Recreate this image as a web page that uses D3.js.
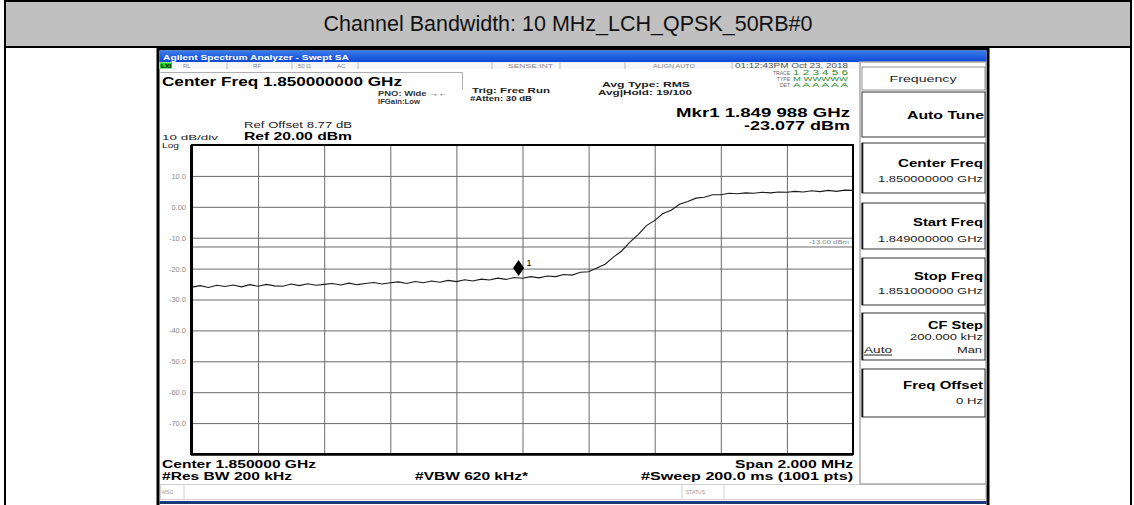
<!DOCTYPE html>
<html>
<head>
<meta charset="utf-8">
<script src="https://cdn.jsdelivr.net/npm/d3@7"></script>
<style>
  body { margin: 0; background: #fff; }
  svg text { font-family: "Liberation Sans", Arial, sans-serif; }
</style>
</head>
<body>
<div id="chart"></div>
<script>
var WIDTH = 1134, HEIGHT = 505;

// sweep settings
var startFreq = 1.849, stopFreq = 1.851;   // GHz
var refLevel = 20, bottomLevel = -80;      // dBm
var displayLine = -13;

// trace levels (dBm), evenly spaced over the span
var traceLevels = [
  -26.0, -25.5, -26.1, -25.4, -25.8, -25.3, -25.9, -25.2, -25.7, -25.1,
  -25.6, -25.7, -25.0, -25.5, -24.9, -25.4, -25.1, -24.8, -25.3, -24.7,
  -25.2, -24.8, -24.5, -25.0, -24.6, -24.3, -24.8, -24.2, -24.6, -24.0,
  -24.4, -23.8, -24.2, -23.6, -24.0, -23.4, -23.7, -23.1, -23.5, -22.9,
  -23.1, -22.6, -23.0, -22.4, -22.6, -21.9, -22.1, -21.2, -21.0, -19.8,
  -18.6, -16.3, -14.3, -11.4, -9.0, -6.1, -4.4, -2.2, -1.1, 0.8,
  1.7, 2.8, 3.1, 3.9, 3.9, 4.4, 4.2, 4.5, 4.4, 4.7,
  4.5, 4.8, 4.7, 5.0, 4.8, 5.2, 4.9, 5.3, 5.0, 5.4,
  5.3
];

// marker 1
var markerFreq = 1.849988, markerLevel = -23.077;

// y tick labels on the graticule
var yTickValues = [10, 0, -10, -20, -30, -40, -50, -60, -70];
var yTickLabels = ["10.0", "0.00", "-10.0", "-20.0", "-30.0", "-40.0", "-50.0", "-60.0", "-70.0"];

// softkeys on the right
var softkeyTitles = ["Center Freq", "Start Freq", "Stop Freq", "CF Step", "Freq Offset"];
var softkeyValues = ["1.850000000 GHz", "1.849000000 GHz", "1.851000000 GHz", "200.000 kHz", "0 Hz"];

var svg = d3.select('#chart')
    .append('svg')
    .attr('width', WIDTH)
    .attr('height', HEIGHT);

//helper for text, optional fixed width
function txt(g, x, y, s, o) {
    o = o || {};
    var t = g.append('text')
        .attr('x', x)
        .attr('y', y)
        .attr('font-size', o.size || 10)
        .attr('font-weight', o.bold ? 'bold' : 'normal')
        .attr('fill', o.fill || '#000')
        .attr('text-anchor', o.anchor || 'start')
        .text(s);
    if (o.w) {
        t.attr('textLength', o.w).attr('lengthAdjust', 'spacingAndGlyphs');
    }
    return t;
}

//outer table: grey header cell
svg.append('rect').attr('x', 5).attr('y', 1).attr('width', 1126).attr('height', 46)
    .attr('fill', '#c0c0c0').attr('stroke', '#000').attr('stroke-width', 2);
svg.append('line').attr('x1', 5).attr('x2', 5).attr('y1', 47).attr('y2', HEIGHT)
    .attr('stroke', '#000').attr('stroke-width', 2);
svg.append('line').attr('x1', 1131).attr('x2', 1131).attr('y1', 47).attr('y2', HEIGHT)
    .attr('stroke', '#000').attr('stroke-width', 2);
txt(svg, 568, 31, "Channel Bandwidth: 10 MHz_LCH_QPSK_50RB#0", {size: 21.5, anchor: 'middle', fill: '#111'});

//screenshot frame
var scr = svg.append('g');
scr.append('rect').attr('x', 158).attr('y', 49).attr('width', 830).attr('height', 460)
    .attr('fill', '#fff').attr('stroke', '#000').attr('stroke-width', 3);

var defs = svg.append('defs');
var grad = defs.append('linearGradient').attr('id', 'bluebar').attr('x1', 0).attr('x2', 0).attr('y1', 0).attr('y2', 1);
grad.append('stop').attr('offset', '0%').attr('stop-color', '#3a7cf0');
grad.append('stop').attr('offset', '100%').attr('stop-color', '#0d48d2');

scr.append('rect').attr('x', 159.5).attr('y', 50.5).attr('width', 827).attr('height', 11.5).attr('fill', 'url(#bluebar)');
txt(scr, 163, 59.5, "Agilent Spectrum Analyzer - Swept SA", {size: 7, bold: true, fill: '#fff', w: 186});

//status row
scr.append('rect').attr('x', 159.5).attr('y', 62).attr('width', 700).attr('height', 7).attr('fill', '#f7f7f7');
scr.append('rect').attr('x', 160).attr('y', 62.5).attr('width', 12).attr('height', 6).attr('fill', '#1fd21f');
txt(scr, 161, 68, "LXI", {size: 5.5, bold: true, fill: '#000', w: 10});
[227, 292, 358, 492, 560, 625, 732].forEach(function(sx) {
    scr.append('line').attr('x1', sx).attr('x2', sx).attr('y1', 62).attr('y2', 69).attr('stroke', '#bbb');
});
txt(scr, 183, 68, "RL", {size: 6, fill: '#888'});
txt(scr, 253, 68, "RF", {size: 6, fill: '#888'});
txt(scr, 298, 68, "50 Ω", {size: 6, fill: '#888'});
txt(scr, 337, 68, "AC", {size: 6, fill: '#888'});
txt(scr, 508, 68, "SENSE:INT", {size: 6, fill: '#888', w: 45});
txt(scr, 653, 68, "ALIGN AUTO", {size: 6, fill: '#888', w: 42});
txt(scr, 735, 68, "01:12:43PM Oct 23, 2018", {size: 6.5, fill: '#555', w: 113});

//center freq box
scr.append('path').attr('d', 'M160.5,72.5H462.5V89.5')
    .attr('fill', 'none').attr('stroke', '#999').attr('stroke-width', 0.8);
txt(scr, 162, 86, "Center Freq 1.850000000 GHz", {size: 13, bold: true, w: 240});
txt(scr, 378, 96, "PNO: Wide \u2192\u2190", {size: 6.5, bold: true, fill: '#333', w: 70});
txt(scr, 378, 104, "IFGain:Low", {size: 6.5, bold: true, fill: '#333', w: 42});
txt(scr, 472, 93, "Trig: Free Run", {size: 8, bold: true, fill: '#222', w: 78});
txt(scr, 470, 101, "#Atten: 30 dB", {size: 7, bold: true, fill: '#222', w: 62});
txt(scr, 602, 87, "Avg Type: RMS", {size: 8, bold: true, fill: '#222', w: 88});
txt(scr, 598, 95, "Avg|Hold: 19/100", {size: 8, bold: true, fill: '#222', w: 94});
txt(scr, 790, 75, "TRACE", {size: 5, fill: '#666', anchor: 'end'});
txt(scr, 790, 81, "TYPE", {size: 5, fill: '#666', anchor: 'end'});
txt(scr, 790, 87, "DET", {size: 5, fill: '#666', anchor: 'end'});
txt(scr, 793, 75, "1 2 3 4 5 6", {size: 6.5, fill: '#2a8a2a', w: 55});
txt(scr, 793, 81, "M WWWWW", {size: 5.5, fill: '#2a8a2a', w: 55});
txt(scr, 793, 87, "A A A A A A", {size: 6, fill: '#2a8a2a', w: 55});

txt(scr, 850, 117, "Mkr1 1.849 988 GHz", {size: 12.5, bold: true, anchor: 'end', w: 174});
txt(scr, 850, 130, "-23.077 dBm", {size: 12.5, bold: true, anchor: 'end', w: 106});
txt(scr, 244, 128, "Ref Offset 8.77 dB", {size: 8.5, fill: '#222', w: 108});
txt(scr, 244, 140, "Ref 20.00 dBm", {size: 11, bold: true, w: 108});
txt(scr, 162, 140, "10 dB/div", {size: 8, fill: '#222', w: 56});
txt(scr, 162, 148, "Log", {size: 7.5, fill: '#222', w: 17});

//graticule scales
var plotL = 192, plotR = 853, plotT = 145, plotB = 454;
var x = d3.scaleLinear().domain([startFreq, stopFreq]).range([plotL, plotR]);
var y = d3.scaleLinear().domain([bottomLevel, refLevel]).range([plotB, plotT]);
var idx = d3.scaleLinear().domain([0, traceLevels.length - 1]).range([startFreq, stopFreq]);

var plot = scr.append('g');

//horizontal graticule via axis
var yAxis = d3.axisLeft(y)
    .tickValues(d3.range(bottomLevel, refLevel + 1, 10))
    .tickSize(-(plotR - plotL))
    .tickFormat(function(d) {
        var i = yTickValues.indexOf(d);
        return i >= 0 ? yTickLabels[i] : '';
    });
var ya = plot.append('g').attr('transform', 'translate(' + plotL + ',0)').call(yAxis);
ya.select('.domain').remove();
ya.selectAll('line').attr('stroke', '#6a6a6a').attr('stroke-width', 1);
ya.selectAll('text').attr('x', -6).attr('fill', '#8a8a8a').attr('font-size', 7.5)
    .style('font-family', '"Liberation Sans", Arial, sans-serif');

//vertical graticule
var xAxis = d3.axisBottom(x)
    .tickValues(x.ticks(10))
    .tickSize(-(plotB - plotT))
    .tickFormat('');
var xa = plot.append('g').attr('transform', 'translate(0,' + plotB + ')').call(xAxis);
xa.select('.domain').remove();
xa.selectAll('line').attr('stroke', '#6a6a6a').attr('stroke-width', 1);

//display line
plot.append('line').attr('x1', plotL).attr('x2', plotR)
    .attr('y1', y(displayLine)).attr('y2', y(displayLine))
    .attr('stroke', '#6a6a6a').attr('stroke-width', 1);
txt(plot, 849, y(displayLine) - 2.5, "-13.00 dBm", {size: 5, fill: '#888', anchor: 'end', w: 40});

//plot border
plot.append('rect').attr('x', plotL).attr('y', plotT).attr('width', plotR - plotL).attr('height', plotB - plotT)
    .attr('fill', 'none').attr('stroke', '#000').attr('stroke-width', 2);
plot.append('line').attr('x1', plotL - 1).attr('x2', plotL - 1).attr('y1', plotT).attr('y2', plotB + 1)
    .attr('stroke', '#000').attr('stroke-width', 2);
plot.append('line').attr('x1', plotL - 1).attr('x2', plotR).attr('y1', plotB + 1).attr('y2', plotB + 1)
    .attr('stroke', '#000').attr('stroke-width', 1.5);

//trace
var line = d3.line()
    .x(function(d, i) { return x(idx(i)); })
    .y(function(d) { return y(d); });
plot.append('path').datum(traceLevels)
    .attr('d', line)
    .attr('fill', 'none')
    .attr('stroke', '#1a1a1a')
    .attr('stroke-width', 1.1);

//marker diamond
var mx = x(markerFreq), my = y(markerLevel);
plot.append('path')
    .attr('d', 'M' + mx + ',' + (my - 18) + 'L' + (mx + 5.5) + ',' + (my - 10) + 'L' + mx + ',' + (my - 2) + 'L' + (mx - 5.5) + ',' + (my - 10) + 'Z')
    .attr('fill', '#000');
txt(plot, mx + 8, my - 12, "1", {size: 9, fill: '#000'});

//bottom annotations
txt(scr, 162, 468, "Center 1.850000 GHz", {size: 11, bold: true, w: 154});
txt(scr, 162, 480, "#Res BW 200 kHz", {size: 11, bold: true, w: 130});
txt(scr, 415, 480, "#VBW 620 kHz*", {size: 11, bold: true, w: 113});
txt(scr, 853, 468, "Span 2.000 MHz", {size: 11, bold: true, anchor: 'end', w: 118});
txt(scr, 853, 480, "#Sweep  200.0 ms (1001 pts)", {size: 11, bold: true, anchor: 'end', w: 212});

//msg bar
scr.append('rect').attr('x', 160.5).attr('y', 484.5).attr('width', 825).attr('height', 15)
    .attr('fill', '#fff').attr('stroke', '#d0d0d0');
[184, 682, 724].forEach(function(sx) {
    scr.append('line').attr('x1', sx).attr('x2', sx).attr('y1', 485).attr('y2', 499).attr('stroke', '#d0d0d0');
});
txt(scr, 162, 494, "MSG", {size: 5, fill: '#999'});
txt(scr, 686, 494, "STATUS", {size: 5, fill: '#999'});
scr.append('rect').attr('x', 159.5).attr('y', 501).attr('width', 827).attr('height', 3).attr('fill', '#1b3a78');

//softkey panel
var panel = scr.append('g');
panel.append('rect').attr('x', 860).attr('y', 62).attr('width', 126).attr('height', 422)
    .attr('fill', '#fff').attr('stroke', '#aaa').attr('stroke-width', 1.5);
panel.append('rect').attr('x', 862).attr('y', 67).attr('width', 123).attr('height', 23)
    .attr('fill', '#fff').attr('stroke', '#777').attr('stroke-width', 0.8);
txt(panel, 923, 82, "Frequency", {size: 9, fill: '#222', anchor: 'middle', w: 67});
panel.append('rect').attr('x', 862).attr('y', 92).attr('width', 123).attr('height', 45)
    .attr('fill', '#fff').attr('stroke', '#333').attr('stroke-width', 1);
txt(panel, 984, 119, "Auto Tune", {size: 10.5, bold: true, anchor: 'end', w: 77});

//softkey boxes
var keyTops = [143, 203, 258, 313, 369];
var keyHeights = [50, 46, 47, 47, 48];
var titleDy = [24, 23, 22, 16, 20];
var valueDy = [39, 39, 36, 27, 35];
var titleW = [85, 70, 69, 55, 80];
var valueW = [105, 105, 105, 73, 27];
softkeyTitles.forEach(function(k, i) {
    var top = keyTops[i];
    panel.append('rect').attr('x', 862).attr('y', top).attr('width', 123).attr('height', keyHeights[i])
        .attr('fill', '#fff').attr('stroke', '#333').attr('stroke-width', 1);
    panel.append('line').attr('x1', 862.5).attr('x2', 862.5).attr('y1', top).attr('y2', top + keyHeights[i])
        .attr('stroke', '#111').attr('stroke-width', 1.6);
    txt(panel, 983, top + titleDy[i], k, {size: 11, bold: true, anchor: 'end', w: titleW[i]});
    txt(panel, 983, top + valueDy[i], softkeyValues[i], {size: 9, fill: '#222', anchor: 'end', w: valueW[i]});
});
//CF Step auto/man
txt(panel, 864, 353, "Auto", {size: 9, fill: '#222', w: 28});
panel.append('line').attr('x1', 864).attr('x2', 892).attr('y1', 355).attr('y2', 355).attr('stroke', '#222');
txt(panel, 982, 353, "Man", {size: 9, fill: '#222', anchor: 'end', w: 25});
</script>
</body>
</html>
